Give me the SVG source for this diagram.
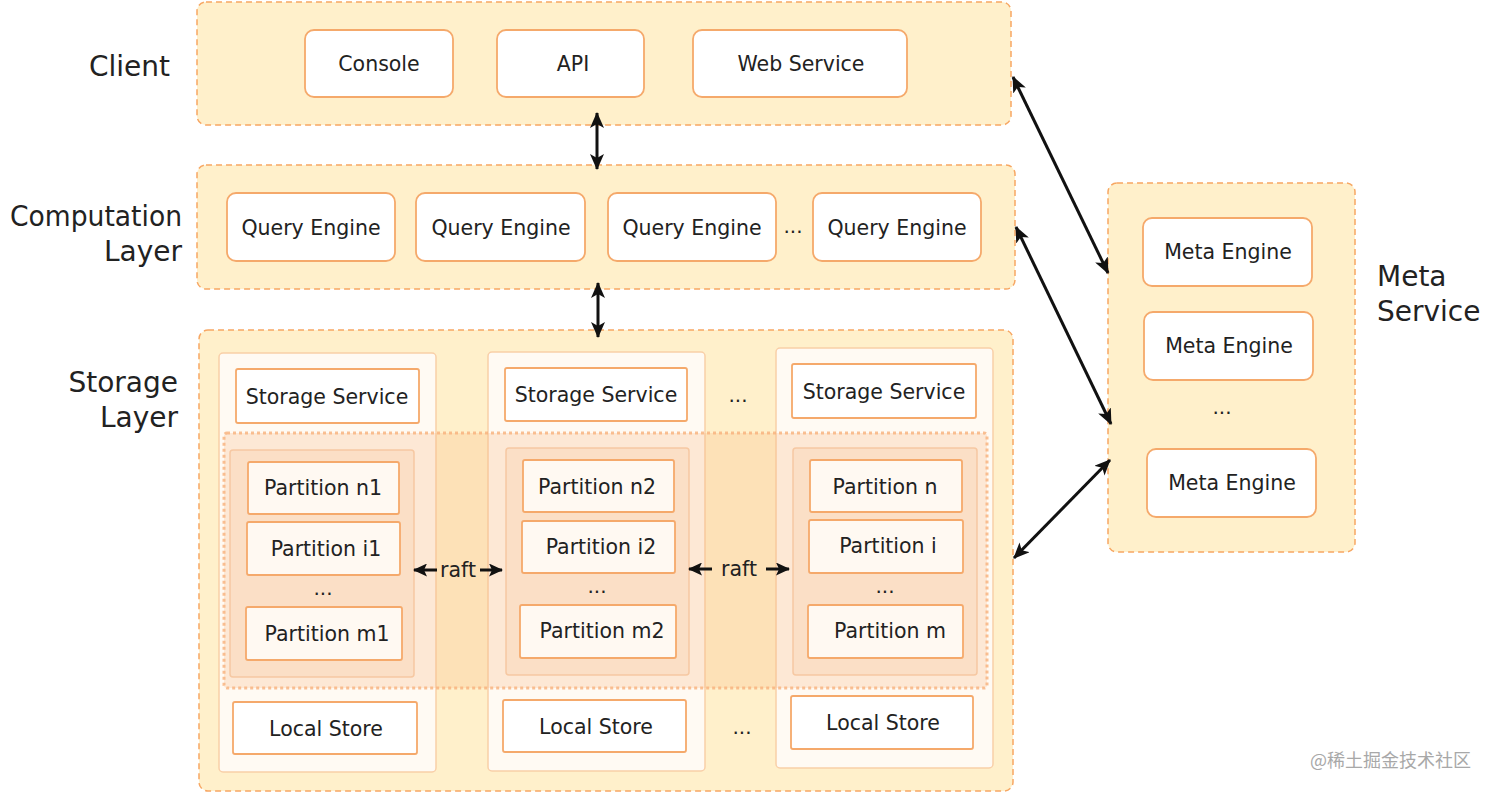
<svg xmlns="http://www.w3.org/2000/svg" width="1492" height="793" viewBox="0 0 1492 793">
<style>
.cont{fill:#FFF0CB;stroke:#F7A763;stroke-width:1.5;stroke-dasharray:6 4}
.box{fill:#FFFFFF;stroke:#F5A96B;stroke-width:1.8}
.panel{fill:#FFFAF3;stroke:#F9CFA8;stroke-width:1.5}
.band{fill:#F9B57C;fill-opacity:0.25;stroke:#F7B07A;stroke-width:3;stroke-dasharray:3 3;stroke-opacity:0.8}
.pgrp{fill:#F6C29A;fill-opacity:0.25;stroke:#F6C8A2;stroke-width:1.5}
.pbox{fill:#FFF9F2;stroke:#F5A96B;stroke-width:1.8}
text{font-family:"DejaVu Sans","Liberation Sans",sans-serif;fill:#222}
.t{font-size:20.5px;text-anchor:middle}
.lbl{font-size:28px}
.dots{font-size:20px;text-anchor:middle}
.conn line{stroke:#111;stroke-width:3}
.wm{font-family:"Noto Sans CJK SC","DejaVu Sans",sans-serif;font-size:18px;fill:#A8A8A8}
</style>
<defs>
<marker id="ah" viewBox="0 0 16 14" refX="15" refY="7" markerWidth="16" markerHeight="14" markerUnits="userSpaceOnUse" orient="auto-start-reverse">
<path d="M0,0 L16,7 L0,14 L4,7 z" fill="#111"/>
</marker>
<marker id="ahs" viewBox="0 0 14 13" refX="13" refY="6.5" markerWidth="14" markerHeight="13" markerUnits="userSpaceOnUse" orient="auto-start-reverse">
<path d="M0,0 L14,6.5 L0,13 L3,6.5 z" fill="#111"/>
</marker>
</defs>

<!-- Client layer -->
<g id="client-layer">
<rect class="cont" x="197" y="2" width="814" height="123" rx="9"/>
<text class="lbl" x="89" y="76">Client</text>
</g>
<g id="console"><rect class="box" x="305" y="30" width="148" height="67" rx="9"/><text class="t" x="379" y="71">Console</text></g>
<g id="api"><rect class="box" x="497" y="30" width="147" height="67" rx="9"/><text class="t" x="573" y="71">API</text></g>
<g id="web-service"><rect class="box" x="693" y="30" width="214" height="67" rx="9"/><text class="t" x="801" y="71">Web Service</text></g>

<!-- Computation layer -->
<g id="computation-layer">
<rect class="cont" x="197" y="165" width="818" height="124" rx="9"/>
<text class="lbl" x="182" y="226" text-anchor="end" textLength="172" lengthAdjust="spacingAndGlyphs">Computation</text>
<text class="lbl" x="182" y="261" text-anchor="end">Layer</text>
<text class="dots" x="793" y="233">...</text>
</g>
<g id="qe1"><rect class="box" x="227" y="193" width="168" height="68" rx="9"/><text class="t" x="311" y="235">Query Engine</text></g>
<g id="qe2"><rect class="box" x="416" y="193" width="169" height="68" rx="9"/><text class="t" x="501" y="235">Query Engine</text></g>
<g id="qe3"><rect class="box" x="608" y="193" width="168" height="68" rx="9"/><text class="t" x="692" y="235">Query Engine</text></g>
<g id="qe4"><rect class="box" x="813" y="193" width="168" height="68" rx="9"/><text class="t" x="897" y="235">Query Engine</text></g>

<!-- Storage layer -->
<g id="storage-layer">
<rect class="cont" x="199" y="330" width="814" height="461" rx="9"/>
<text class="lbl" x="178" y="392" text-anchor="end">Storage</text>
<text class="lbl" x="178" y="427" text-anchor="end">Layer</text>
<text class="dots" x="738" y="402">...</text>
<text class="dots" x="742" y="734">...</text>
</g>
<g id="col1-panel"><rect class="panel" x="219" y="353" width="217" height="419" rx="4"/></g>
<g id="col2-panel"><rect class="panel" x="488" y="352" width="217" height="419" rx="4"/></g>
<g id="col3-panel"><rect class="panel" x="776" y="348" width="217" height="420" rx="4"/></g>
<g id="raft-band"><rect class="band" x="224" y="433" width="763" height="255" rx="3"/></g>

<g id="ss1"><rect class="box" x="236" y="369" width="183" height="54" rx="2"/><text class="t" x="327" y="404">Storage Service</text></g>
<g id="ss2"><rect class="box" x="505" y="368" width="182" height="53" rx="2"/><text class="t" x="596" y="402">Storage Service</text></g>
<g id="ss3"><rect class="box" x="792" y="364" width="184" height="54" rx="2"/><text class="t" x="884" y="399">Storage Service</text></g>

<g id="pg1"><rect class="pgrp" x="230" y="450" width="184" height="227" rx="3"/><text class="dots" x="323" y="595">...</text></g>
<g id="pg2"><rect class="pgrp" x="506" y="448" width="183" height="227" rx="3"/><text class="dots" x="597" y="593">...</text></g>
<g id="pg3"><rect class="pgrp" x="793" y="448" width="184" height="227" rx="3"/><text class="dots" x="885" y="593">...</text></g>

<g id="pn1"><rect class="pbox" x="248" y="462" width="151" height="52" rx="2"/><text class="t" x="323" y="495">Partition n1</text></g>
<g id="pi1"><rect class="pbox" x="247" y="522" width="153" height="53" rx="2"/><text class="t" x="326" y="556">Partition i1</text></g>
<g id="pm1"><rect class="pbox" x="246" y="607" width="156" height="53" rx="2"/><text class="t" x="327" y="641">Partition m1</text></g>

<g id="pn2"><rect class="pbox" x="523" y="460" width="151" height="52" rx="2"/><text class="t" x="597" y="494">Partition n2</text></g>
<g id="pi2"><rect class="pbox" x="522" y="521" width="153" height="52" rx="2"/><text class="t" x="601" y="554">Partition i2</text></g>
<g id="pm2"><rect class="pbox" x="520" y="605" width="156" height="53" rx="2"/><text class="t" x="602" y="638">Partition m2</text></g>

<g id="pn3"><rect class="pbox" x="810" y="460" width="152" height="52" rx="2"/><text class="t" x="885" y="494">Partition n</text></g>
<g id="pi3"><rect class="pbox" x="809" y="520" width="154" height="53" rx="2"/><text class="t" x="888" y="553">Partition i</text></g>
<g id="pm3"><rect class="pbox" x="808" y="605" width="155" height="53" rx="2"/><text class="t" x="890" y="638">Partition m</text></g>

<g id="ls1"><rect class="box" x="233" y="702" width="184" height="52" rx="2"/><text class="t" x="326" y="736">Local Store</text></g>
<g id="ls2"><rect class="box" x="503" y="700" width="183" height="52" rx="2"/><text class="t" x="596" y="734">Local Store</text></g>
<g id="ls3"><rect class="box" x="791" y="696" width="182" height="53" rx="2"/><text class="t" x="883" y="730">Local Store</text></g>

<!-- Meta service -->
<g id="meta-service">
<rect class="cont" x="1108" y="183" width="247" height="369" rx="9"/>
<text class="lbl" x="1377" y="286">Meta</text>
<text class="lbl" x="1377" y="321">Service</text>
<text class="dots" x="1222" y="414">...</text>
</g>
<g id="me1"><rect class="box" x="1143" y="218" width="169" height="68" rx="9"/><text class="t" x="1228" y="259">Meta Engine</text></g>
<g id="me2"><rect class="box" x="1144" y="312" width="169" height="68" rx="9"/><text class="t" x="1229" y="353">Meta Engine</text></g>
<g id="me3"><rect class="box" x="1147" y="449" width="169" height="68" rx="9"/><text class="t" x="1232" y="490">Meta Engine</text></g>

<!-- Connectors -->
<g id="connectors" class="conn">
<line x1="597" y1="113" x2="597" y2="169" marker-start="url(#ah)" marker-end="url(#ah)"/>
<line x1="598" y1="283" x2="598" y2="337" marker-start="url(#ah)" marker-end="url(#ah)"/>
<line x1="1013" y1="77" x2="1108" y2="273" marker-start="url(#ah)" marker-end="url(#ah)"/>
<line x1="1016" y1="227" x2="1111" y2="424" marker-start="url(#ah)" marker-end="url(#ah)"/>
<line x1="1014" y1="558" x2="1110" y2="460" marker-start="url(#ah)" marker-end="url(#ah)"/>
<line x1="414" y1="570" x2="437" y2="570" marker-start="url(#ahs)"/>
<line x1="480" y1="570" x2="502" y2="570" marker-end="url(#ahs)"/>
<line x1="689" y1="569" x2="712" y2="569" marker-start="url(#ahs)"/>
<line x1="766" y1="569" x2="789" y2="569" marker-end="url(#ahs)"/>
</g>
<g id="raft-labels">
<text class="t" x="458" y="577">raft</text>
<text class="t" x="739" y="576">raft</text>
</g>

<text class="wm" x="1310" y="767">@稀土掘金技术社区</text>
</svg>
